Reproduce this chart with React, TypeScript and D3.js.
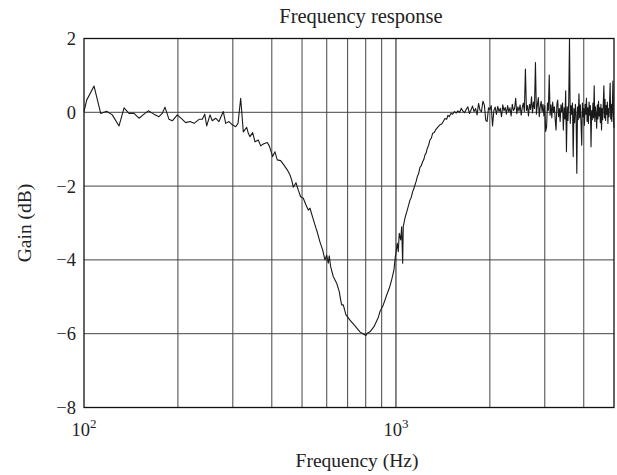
import React from 'react';
import * as d3 from 'd3';

// hand-read points, 100 Hz .. 1.5 kHz: [frequency Hz, gain dB]
const lowBand: [number, number][] = [
  [100, 0.02], [102, 0.33], [107.7, 0.71], [113.1, -0.03], [118.2, 0.03], [123.2, -0.07],
  [129.5, -0.37], [134.4, 0.12], [139.4, -0.03], [144.6, -0.03], [150.1, -0.16], [155.7, -0.05],
  [160.7, 0.04], [167.6, -0.05], [173.9, -0.12], [178.2, -0.03], [181.8, 0.14], [187.3, -0.19],
  [191.9, -0.23], [199.1, -0.07], [206.6, -0.19], [211.8, -0.28], [218.7, -0.25], [225.3, -0.3],
  [233.8, -0.19], [239.5, -0.19], [243.8, -0.05], [247.4, -0.37], [253.5, -0.07], [257.8, -0.23],
  [264.3, -0.16], [270.8, -0.25], [279.6, 0.02], [284.6, -0.3], [291.6, -0.25], [298.8, -0.34],
  [306.4, -0.39], [311.7, -0.3], [317.9, 0.38], [324.1, -0.53], [332.3, -0.41], [336.3, -0.57],
  [340.5, -0.66], [347.3, -0.55], [353.3, -0.8], [362, -0.75], [368.4, -0.91], [375.6, -0.86],
  [386.8, -0.82], [392.6, -0.91], [402.5, -1.2], [409.4, -1.07], [416.4, -1.29], [427, -1.31],
  [437.5, -1.43], [448.3, -1.56], [457.4, -1.7], [463.1, -1.83], [468.6, -2.03], [478.1, -1.91],
  [486.3, -2.11], [495, -2.29], [504.6, -2.33], [514.7, -2.51], [523.5, -2.65], [530.2, -2.6],
  [540.8, -2.85], [554.1, -3.14], [556.9, -3.19], [570.6, -3.51], [582.1, -3.73], [592, -4.0],
  [599.5, -3.87], [606.7, -4.09], [611.1, -3.89], [617.5, -4.18], [629.5, -4.45], [645.5, -4.63],
  [658.1, -4.86], [665, -5.09], [669.9, -5.22], [677.8, -5.22], [691.4, -5.49], [712.2, -5.63],
  [739, -5.79], [766.7, -5.95], [785.7, -6.01], [801.4, -6.05], [809.2, -5.99], [825.5, -5.95],
  [850.2, -5.81], [877.7, -5.56], [888.7, -5.4], [910.6, -5.22], [937.8, -4.91], [951.7, -4.77],
  [968.8, -4.54], [985.3, -4.27], [992.7, -4.0], [1009.7, -3.55], [1017.2, -3.78], [1024.7, -3.28],
  [1035.4, -3.46], [1043, -3.1], [1050.8, -4.09], [1055.4, -3.1], [1068.6, -2.87], [1087, -2.65],
  [1108.9, -2.38], [1120, -2.30], [1131.2, -2.15], [1140, -2.08], [1150.6, -1.97], [1160, -1.88],
  [1170.3, -1.75], [1182, -1.66], [1193.8, -1.49], [1205, -1.45], [1217.9, -1.34], [1228, -1.28],
  [1238.7, -1.16], [1250, -1.10], [1260, -0.98], [1272, -0.90], [1285.3, -0.75], [1298, -0.70],
  [1311.1, -0.57], [1327, -0.55], [1343.5, -0.46], [1362, -0.40], [1383.6, -0.34], [1400, -0.32],
  [1417.8, -0.25], [1435, -0.17], [1453.8, -0.19], [1468, -0.08], [1481.9, -0.12],
];

const highStart = 1500;
const highStep = 20;
const highGain = [
  -0.03, -0.05, 0.02, -0.02, 0.04, 0.0, 0.11, 0.03, -0.01, 0.08,
  0.15, -0.03, 0.06, 0.17, 0.02, 0.1, -0.07, 0.24, 0.05, 0.02,
  0.3, 0.2, -0.21, -0.25, 0.12, 0.07, 0.18, -0.37, 0.05, 0.14,
  -0.06, 0.16, 0.02, 0.11, -0.12, 0.2, 0.04, 0.13, -0.05, 0.18,
  0.01, 0.12, -0.1, 0.22, 0.05, 0.1, 0.38, -0.04, 0.15, 0.03,
  0.2, -0.08, 0.12, 0.25, 0.02, 1.17, 0.05, 0.18, -0.1, 0.22,
  0.08, 0.42, -0.02, 0.28, 0.1, 1.35, -0.05, 0.2, 0.4, -0.12,
  0.15, 0.3, 0.02, 0.22, -0.1, 0.18, -0.52, -0.39, 0.25, 0.05,
  1.01, -0.08, 0.2, -0.15, 0.28, 0.0, 0.15, -0.2, -0.48, 0.22,
  0.33, -0.12, 0.1, -0.25, 0.2, 0.02, 0.25, -0.48, 0.12, -0.18,
  0.58, -1.07, 0.15, -0.22, 0.3, 2.0, -0.3, 0.18, -0.05, 0.25,
  -1.2, 0.1, -0.28, 0.22, -0.1, -1.65, 0.15, -0.2, 0.5, -0.15,
  0.2, -0.3, -0.89, 0.25, -0.12, 0.1, -0.35, 0.22, -0.05, 0.38,
  -0.25, 0.12, -0.3, 0.28, -0.08, 0.18, -0.93, 0.05, -0.2, 0.25,
  -0.15, 0.72, -0.25, 0.15, -0.05, -0.43, 0.2, -0.18, 0.3, -0.1,
  0.12, -0.28, 0.22, -0.48, 0.1, -0.2, 0.25, 0.72, -0.15, 0.35,
  -0.22, 0.18, -0.05, 0.28, -0.3, 0.1, -0.12, 0.3, 0.79, -0.18,
  0.22, -0.25, 0.15, 0.85, -0.1, -0.42,
];

const yTicks = [2, 0, -2, -4, -6, -8];
const xGrid = [200, 300, 400, 500, 600, 700, 800, 900, 1000, 2000, 3000, 4000];
const xTickLabels: [number, string][] = [[100, '2'], [1000, '3']];

const W = 617;
const H = 475;
const left = 84, right = 614, top = 38.5, bottom = 407.5;
const font = '"Liberation Serif", "Times New Roman", serif';

export default function App() {
  const x = d3.scaleLog().domain([100, 5000]).range([left, right]);
  const y = d3.scaleLinear().domain([-8, 2]).range([bottom, top]);

  const data: [number, number][] = lowBand.concat(
    highGain.map((g, i) => [highStart + i * highStep, g] as [number, number])
  );
  const line = d3.line<[number, number]>().x(d => x(d[0])).y(d => y(d[1]));

  const fmt = (v: number) => (v < 0 ? '\u2212' + Math.abs(v) : String(v));

  return (
    <svg width={W} height={H} style={{ position: 'absolute', left: 0, top: 0, background: '#fff' }}
      fontFamily={font} fill="#222">
      <text x={(left + right) / 2 + 12} y={23} textAnchor="middle" fontSize={20.5}>Frequency response</text>

      <g stroke="#444" strokeWidth={1}>
        {yTicks.map(t => (
          <line key={'h' + t} x1={left} x2={right} y1={y(t)} y2={y(t)} />
        ))}
        {xGrid.map(f => (
          <line key={'v' + f} x1={x(f)} x2={x(f)} y1={top} y2={bottom} stroke={f === 1000 ? '#111' : '#444'} />
        ))}
      </g>

      <path d={line(data) ?? ''} fill="none" stroke="#1a1a1a" strokeWidth={1.1} strokeLinejoin="round" />

      <rect x={left} y={top} width={right - left} height={bottom - top} fill="none" stroke="#111" strokeWidth={1.3} />

      {yTicks.map(t => (
        <text key={'yl' + t} x={76} y={y(t)} dy="0.35em" textAnchor="end" fontSize={18.5}>{fmt(t)}</text>
      ))}
      {xTickLabels.map(([f, e]) => (
        <text key={'xl' + f} x={x(f)} y={436} textAnchor="middle" fontSize={18.5}>
          10<tspan dy={-8} fontSize={13}>{e}</tspan>
        </text>
      ))}

      <text x={(left + right) / 2 + 8} y={467} textAnchor="middle" fontSize={19.5}>Frequency (Hz)</text>
      <text transform={`translate(31,${(top + bottom) / 2}) rotate(-90)`} textAnchor="middle" fontSize={19.5}>Gain (dB)</text>
    </svg>
  );
}
